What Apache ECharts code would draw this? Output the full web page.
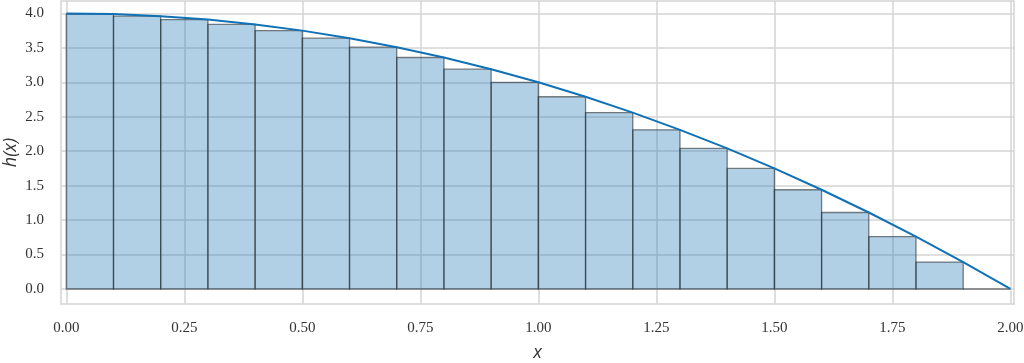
<!DOCTYPE html>
<html>
<head>
<meta charset="utf-8">
<script src="https://cdn.jsdelivr.net/npm/echarts@6/dist/echarts.min.js"></script>
<style>
html,body{margin:0;padding:0;background:#fff;}
#chart{width:1024px;height:363px;}
</style>
</head>
<body>
<div id="chart"></div>
<script>
// Rectangle left and right edges (x)
const binLeft  = [0.0,0.1,0.2,0.3,0.4,0.5,0.6,0.7,0.8,0.9,1.0,1.1,1.2,1.3,1.4,1.5,1.6,1.7,1.8,1.9];
const binRight = [0.1,0.2,0.3,0.4,0.5,0.6,0.7,0.8,0.9,1.0,1.1,1.2,1.3,1.4,1.5,1.6,1.7,1.8,1.9,2.0];
// Rectangle heights
const barHeights = [3.99,3.96,3.91,3.84,3.75,3.64,3.51,3.36,3.19,3.00,2.79,2.56,2.31,2.04,1.75,1.44,1.11,0.76,0.39,0.00];
// Curve h(x) points
const curveX = [0.0,0.1,0.2,0.3,0.4,0.5,0.6,0.7,0.8,0.9,1.0,1.1,1.2,1.3,1.4,1.5,1.6,1.7,1.8,1.9,2.0];
const curveY = [4.00,3.99,3.96,3.91,3.84,3.75,3.64,3.51,3.36,3.19,3.00,2.79,2.56,2.31,2.04,1.75,1.44,1.11,0.76,0.39,0.00];
// Tick labels
const xTicks = [0, 0.25, 0.5, 0.75, 1.0, 1.25, 1.5, 1.75, 2.0];
const yTicks = [0, 0.5, 1.0, 1.5, 2.0, 2.5, 3.0, 3.5, 4.0];

const barData = binLeft.map((l, i) => [l, binRight[i], barHeights[i]]);
const lineData = curveX.map((x, i) => [x, curveY[i]]);

const labelFont = {color: '#333', fontFamily: 'Liberation Serif', fontSize: 15};
const gridLine = {show: true, lineStyle: {color: '#d4d4d4', width: 1.5}};
const nameFont = {fontFamily: 'Open Sans', fontStyle: 'italic', fontSize: 18, color: '#333'};

const chart = echarts.init(document.getElementById('chart'), null, {renderer: 'canvas'});
chart.setOption({
  animation: false,
  grid: {left: 61, right: 10, top: 1, bottom: 59, outerBoundsMode: 'none', containLabel: false,
         show: true, borderColor: '#d4d4d4', borderWidth: 1.5},
  xAxis: {
    type: 'value', min: -0.0112, max: 2.0076,
    name: 'x', nameLocation: 'middle', nameGap: 40, nameMoveOverlap: false,
    nameTextStyle: nameFont,
    axisLine: {show: false},
    axisTick: {show: false, customValues: xTicks},
    axisLabel: Object.assign({margin: 17, customValues: xTicks, formatter: v => v.toFixed(2)}, labelFont),
    splitLine: gridLine
  },
  yAxis: {
    type: 'value', min: -0.218, max: 4.18,
    name: 'h(x)', nameLocation: 'middle', nameGap: 41, nameRotate: 90, nameMoveOverlap: false,
    nameTextStyle: nameFont,
    axisLine: {show: false},
    axisTick: {show: false, customValues: yTicks},
    axisLabel: Object.assign({margin: 17, customValues: yTicks, formatter: v => v.toFixed(1)}, labelFont),
    splitLine: gridLine
  },
  series: [
    {
      type: 'custom',
      data: barData,
      encode: {x: [0, 1], y: 2},
      z: 2,
      renderItem: function (params, api) {
        const x0 = api.value(0), x1 = api.value(1), h = api.value(2);
        const p0 = api.coord([x0, h]);
        const p1 = api.coord([x1, 0]);
        return {
          type: 'rect',
          shape: {x: p0[0], y: p0[1], width: p1[0] - p0[0], height: p1[1] - p0[1]},
          style: {fill: 'rgba(31,119,180,0.35)', stroke: 'rgba(40,45,50,0.6)', lineWidth: 1.3}
        };
      }
    },
    {
      type: 'line',
      data: lineData,
      showSymbol: false,
      z: 3,
      lineStyle: {color: '#1071b5', width: 2}
    }
  ]
});
</script>
</body>
</html>
